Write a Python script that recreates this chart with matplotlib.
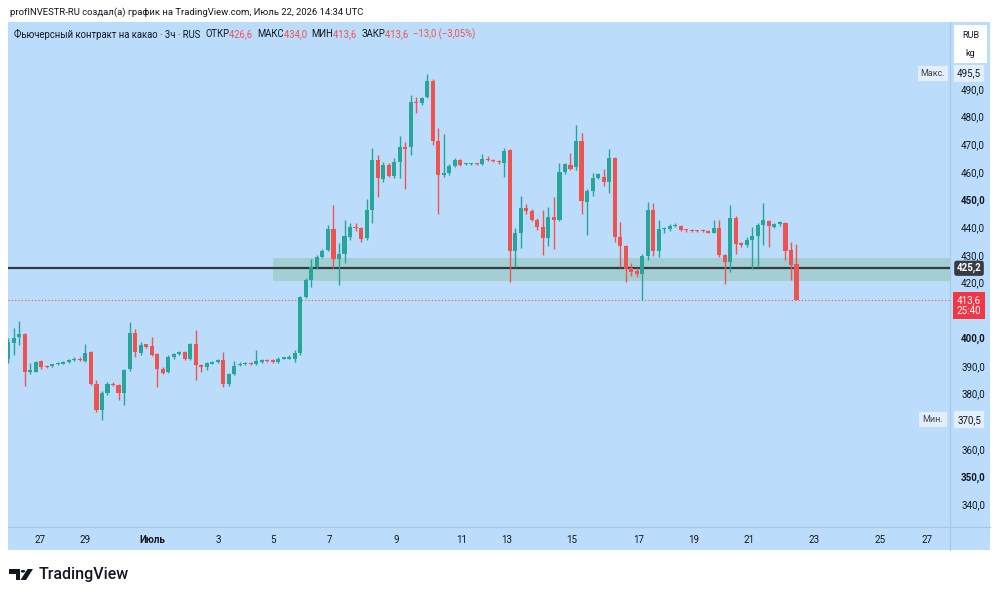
import matplotlib
matplotlib.use("Agg")
import matplotlib.pyplot as plt
from matplotlib.patches import Rectangle, Polygon, Circle
from matplotlib.transforms import blended_transform_factory

# свечи 3ч (open, high, low, close)
opens = [392.5, 398.1, 400.5, 401.3, 387.7, 387.8, 391.7, 389.8, 389.9, 390.5,
         390.8, 391.2, 392.0, 392.6, 391.8, 395.1, 383.4, 374.2, 380.0, 383.6,
         383.0, 380.0, 388.7, 401.7, 394.7, 397.7, 397.1, 394.1, 389.0, 387.8,
         393.0, 394.2, 395.1, 392.3, 397.7, 390.2, 389.6, 390.8, 391.2, 392.0,
         383.4, 387.0, 390.1, 390.6, 391.1, 390.5, 391.4, 392.0, 392.0, 391.4,
         392.6, 392.6, 392.6, 394.7, 415.0, 421.0, 425.6, 429.2, 431.8, 439.3,
         428.5, 430.4, 436.6, 440.2, 439.6, 436.0, 446.3, 464.3, 457.5, 462.5,
         458.6, 463.5, 468.8, 468.9, 485.3, 484.8, 487.2, 492.9, 471.3, 458.9,
         459.5, 462.1, 464.3, 462.7, 462.8, 462.9, 462.9, 464.6, 464.3, 463.9,
         463.3, 467.9, 431.5, 438.0, 446.8, 446.0, 442.8, 440.2, 436.3, 443.8,
         442.8, 459.8, 462.5, 461.6, 471.2, 449.2, 453.2, 457.9, 458.2, 456.2,
         464.9, 436.6, 433.2, 425.2, 424.2, 423.0, 429.7, 446.4, 431.5, 439.2,
         439.2, 440.4, 440.5, 439.0, 438.9, 438.8, 438.9, 438.7, 438.1, 439.8,
         429.9, 427.6, 443.5, 434.2, 433.6, 435.3, 436.8, 440.8, 442.3, 440.2,
         441.0, 441.6, 431.7, 426.6]
highs = [400.0, 403.5, 406.2, 401.8, 391.1, 391.6, 392.1, 390.2, 390.8, 391.4,
         391.7, 392.3, 393.3, 393.0, 397.7, 395.4, 385.0, 381.0, 384.2, 384.0,
         383.5, 389.0, 405.9, 403.1, 398.5, 398.0, 400.5, 394.5, 389.4, 393.8,
         394.6, 395.5, 395.5, 398.2, 402.9, 390.6, 391.5, 391.8, 392.3, 395.1,
         387.5, 391.7, 391.2, 391.4, 391.4, 395.7, 392.3, 392.3, 392.3, 393.0,
         393.3, 393.8, 395.7, 415.2, 421.6, 428.5, 430.0, 432.0, 440.8, 448.0,
         434.5, 442.7, 441.4, 441.4, 440.2, 450.1, 468.5, 466.1, 463.6, 463.2,
         464.9, 473.0, 470.9, 487.8, 486.9, 487.2, 495.5, 493.5, 475.7, 473.7,
         462.7, 465.0, 464.6, 463.1, 463.2, 463.1, 466.4, 465.7, 464.6, 464.2,
         468.5, 468.3, 439.6, 451.3, 448.4, 446.5, 443.4, 446.2, 447.4, 450.8,
         463.1, 463.3, 466.9, 476.9, 474.1, 453.8, 459.7, 459.7, 461.2, 468.1,
         465.3, 442.0, 433.6, 427.2, 425.2, 430.2, 449.2, 448.9, 442.8, 440.2,
         441.0, 441.6, 440.9, 439.3, 439.2, 439.1, 439.2, 439.0, 442.8, 442.8,
         430.5, 448.0, 444.0, 434.6, 436.5, 440.2, 441.6, 448.6, 442.8, 441.5,
         442.4, 442.0, 434.8, 434.0]
lows = [391.0, 393.9, 397.5, 382.7, 387.0, 387.6, 389.0, 389.2, 389.6, 390.3,
        390.6, 391.0, 391.8, 391.6, 391.4, 383.0, 373.4, 370.5, 379.5, 382.8,
        377.6, 375.8, 388.0, 393.2, 393.9, 396.5, 393.4, 382.4, 387.0, 387.3,
        392.6, 393.9, 392.0, 392.0, 384.8, 387.8, 388.4, 390.5, 390.9, 382.4,
        382.8, 386.6, 389.8, 390.3, 390.3, 390.2, 391.1, 391.4, 391.1, 391.1,
        392.4, 392.3, 391.4, 394.0, 414.5, 418.6, 425.0, 428.8, 431.4, 425.2,
        419.2, 427.0, 435.4, 438.8, 434.8, 435.4, 441.7, 450.8, 456.3, 458.0,
        457.7, 457.7, 453.7, 466.1, 481.1, 484.2, 486.6, 469.7, 444.8, 458.3,
        458.9, 461.6, 462.1, 462.3, 462.5, 462.5, 462.5, 463.8, 463.5, 463.0,
        458.3, 420.3, 425.8, 432.4, 444.8, 442.2, 439.0, 430.0, 433.2, 432.0,
        442.2, 459.2, 460.5, 460.8, 444.8, 437.2, 451.3, 457.3, 454.9, 452.2,
        434.8, 425.8, 420.3, 422.5, 421.9, 413.7, 428.2, 429.7, 429.1, 437.8,
        438.8, 440.2, 438.6, 438.2, 438.4, 438.4, 438.2, 437.8, 437.8, 429.1,
        419.5, 423.9, 430.5, 433.0, 433.0, 425.1, 425.5, 433.5, 432.9, 439.6,
        440.6, 428.1, 420.9, 413.6]
closes = [398.5, 400.2, 401.3, 387.8, 388.4, 391.2, 389.6, 389.6, 390.5, 391.1,
          391.4, 392.0, 392.6, 392.2, 394.7, 383.4, 374.2, 380.0, 383.6, 383.2,
          380.0, 388.4, 401.9, 394.8, 397.5, 396.9, 393.9, 388.7, 387.5, 393.3,
          394.1, 395.1, 392.4, 397.7, 390.2, 389.4, 391.1, 391.4, 392.0, 383.6,
          387.0, 389.9, 390.8, 391.1, 390.6, 391.7, 392.0, 391.7, 391.4, 392.6,
          393.0, 393.2, 394.7, 415.0, 421.0, 425.6, 429.2, 431.6, 439.3, 428.5,
          430.3, 436.9, 440.0, 439.8, 435.7, 446.3, 464.3, 457.7, 462.5, 458.6,
          463.5, 468.8, 468.3, 485.1, 484.9, 486.6, 492.9, 471.3, 458.9, 459.7,
          462.1, 464.3, 462.5, 462.8, 462.9, 462.8, 464.5, 464.3, 463.9, 463.4,
          467.6, 431.5, 438.0, 447.1, 446.0, 442.8, 440.0, 436.3, 443.8, 442.6,
          460.0, 462.7, 461.0, 471.2, 449.6, 453.2, 457.9, 459.1, 456.2, 464.9,
          436.6, 433.2, 424.8, 424.0, 423.0, 429.7, 446.2, 431.5, 439.2, 439.6,
          440.4, 440.8, 439.0, 438.9, 438.8, 438.7, 438.6, 438.1, 439.8, 429.9,
          427.6, 443.5, 434.1, 433.6, 435.3, 436.8, 440.8, 442.6, 440.4, 441.0,
          442.0, 431.5, 426.3, 413.6]

# подписи оси времени и их положение в барах
date_labels = ["27", "29", "Июль", "3", "5", "7", "9", "11", "13", "15",
               "17", "19", "21", "23", "25", "27"]
date_pos = [5.8, 14.0, 26.1, 38.1, 48.1, 58.3, 70.4, 82.3, 90.5, 102.3,
            114.3, 124.4, 134.4, 146.2, 158.2, 166.6]

price_ticks = [490, 480, 470, 460, 450, 440, 430, 420, 400, 390, 380, 360, 350, 340]
bold_ticks = [450, 400, 350]

level_line = 425.2
zone_lo, zone_hi = 420.6, 428.8
zone_start = 48.0
last_price = 413.6
max_price = 495.5
min_price = 370.5

UP = "#26a69a"
DOWN = "#ef5350"
BG = "#bbdcfa"
GRID_LINE = "#a6c6e6"
TXT = "#131722"
FONTS = ["Roboto", "DejaVu Sans"]

W, H = 1000, 599
plt.rcParams["font.family"] = FONTS


def fx(x):
    return x / W


def fy(y):
    return 1 - y / H


fig = plt.figure(figsize=(W / 100, H / 100), dpi=100, facecolor="white")

# фон панели графика (под осями)
fig.patches.append(Rectangle((fx(8), fy(550)), fx(982), 528 / H, transform=fig.transFigure,
                             facecolor=BG, edgecolor="none", zorder=-5))

ax = fig.add_axes([fx(8), fy(527), fx(942), 505 / H])
ax.set_facecolor(BG)
for s in ax.spines.values():
    s.set_visible(False)

n = len(opens)
xmin, xmax = -0.05, 170.85
ax.set_xlim(xmin, xmax)
ax.set_ylim(331.8, 514.1)

# зона и уровень
ax.add_patch(Rectangle((zone_start, zone_lo), xmax - zone_start, zone_hi - zone_lo,
                       facecolor="#a3cfd3", edgecolor="none", zorder=1))
ax.axhline(level_line, color="#363a45", lw=1.6, zorder=2)
ax.axhline(last_price, color=DOWN, lw=0.8, ls=(0, (1, 2)), zorder=2)

# свечи
for i in range(n):
    o, h, l, c = opens[i], highs[i], lows[i], closes[i]
    col = UP if c >= o else DOWN
    ax.vlines(i, l, h, color=col, lw=1.0, zorder=3)
    body = max(abs(c - o), 0.35)
    ax.bar(i, body, bottom=min(o, c), width=0.74, color=col, zorder=4, linewidth=0)

ax.set_xticks(date_pos)
ax.set_xticklabels(date_labels)
ax.tick_params(axis="x", length=0, pad=6, labelsize=7, colors=TXT)
for lbl in ax.get_xticklabels():
    if lbl.get_text() == "Июль":
        lbl.set_fontweight("bold")

ax.yaxis.tick_right()
ax.set_yticks(price_ticks)
ax.set_yticklabels([f"{v:.1f}".replace(".", ",") for v in price_ticks])
ax.tick_params(axis="y", length=0, pad=8, labelsize=7, colors=TXT)
for lbl, v in zip(ax.get_yticklabels(), price_ticks):
    if v in bold_ticks:
        lbl.set_fontweight("bold")

# разделители шкал
fig.add_artist(plt.Line2D([fx(950), fx(950)], [fy(22), fy(550)], color=GRID_LINE, lw=0.8))
fig.add_artist(plt.Line2D([fx(8), fx(990)], [fy(527), fy(527)], color=GRID_LINE, lw=0.8))

# метки цены на шкале
tr = blended_transform_factory(fig.transFigure, ax.transData)
ax.text(fx(969), level_line, "425,2", transform=tr, ha="center", va="center", fontsize=7,
        color="white", fontweight="bold",
        bbox=dict(boxstyle="round,pad=0.25", fc="#363a45", ec="none"), clip_on=False)
ax.text(fx(969), last_price - 1.8, "413,6\n25:40", transform=tr, ha="center", va="center",
        fontsize=7, color="white", linespacing=1.1,
        bbox=dict(boxstyle="square,pad=0.35", fc="#f23645", ec="none"), clip_on=False)
for val, name in [(max_price, "Макс."), (min_price, "Мин.")]:
    txt = f"{val:.1f}".replace(".", ",")
    ax.text(fx(969), val, txt, transform=tr, ha="center", va="center", fontsize=7, color=TXT,
            bbox=dict(boxstyle="square,pad=0.35", fc="#e3eefb", ec="none"), clip_on=False)
    ax.text(fx(933), val, name, transform=tr, ha="center", va="center", fontsize=6.5,
            color="#3c4250", bbox=dict(boxstyle="square,pad=0.35", fc="#e3eefb", ec="none"),
            clip_on=False)

# RUB / kg
fig.patches.append(Rectangle((fx(954), fy(63)), fx(33), 38 / H, transform=fig.transFigure,
                             facecolor="white", edgecolor="none", zorder=1))
fig.text(fx(970.5), fy(35), "RUB", ha="center", va="center", fontsize=6.5, color=TXT)
fig.text(fx(970.5), fy(54), "kg", ha="center", va="center", fontsize=6.5, color=TXT)

# верхняя подпись
fig.text(fx(10), fy(12), "profINVESTR-RU создал(а) график на TradingView.com, Июль 22, 2026 14:34 UTC",
         ha="left", va="center", fontsize=6.8, color=TXT)

# легенда инструмента, с цветными значениями
parts = [("Фьючерсный контракт на какао · 3ч · RUS  ", TXT), ("ОТКР", TXT), ("426,6  ", DOWN),
         ("МАКС", TXT), ("434,0  ", DOWN), ("МИН", TXT), ("413,6  ", DOWN),
         ("ЗАКР", TXT), ("413,6  ", DOWN), ("−13,0 (−3,05%)", DOWN)]
renderer = fig.canvas.get_renderer()
x0 = fx(14)
for s, col in parts:
    t = fig.text(x0, fy(34), s, ha="left", va="center", fontsize=6.85, color=col)
    bb = t.get_window_extent(renderer=renderer)
    x0 += bb.width / W

# логотип TradingView
logo = "#131722"
fig.patches.append(Polygon([(fx(9), fy(569)), (fx(20), fy(569)), (fx(20), fy(580)),
                            (fx(15.5), fy(580)), (fx(15.5), fy(573.5)), (fx(9), fy(573.5))],
                           closed=True, transform=fig.transFigure, fc=logo, ec="none"))
fig.patches.append(Circle((fx(23), fy(571.3)), 2.2 / W, transform=fig.transFigure,
                          fc=logo, ec="none"))
fig.patches.append(Polygon([(fx(27.5), fy(569)), (fx(33), fy(569)), (fx(26), fy(580)),
                            (fx(20.5), fy(580))],
                           closed=True, transform=fig.transFigure, fc=logo, ec="none"))
fig.text(fx(39), fy(575), "TradingView", ha="left", va="center", fontsize=11.5,
         fontweight="medium", color=logo)

fig.savefig("out.png", dpi=100, facecolor="white")
